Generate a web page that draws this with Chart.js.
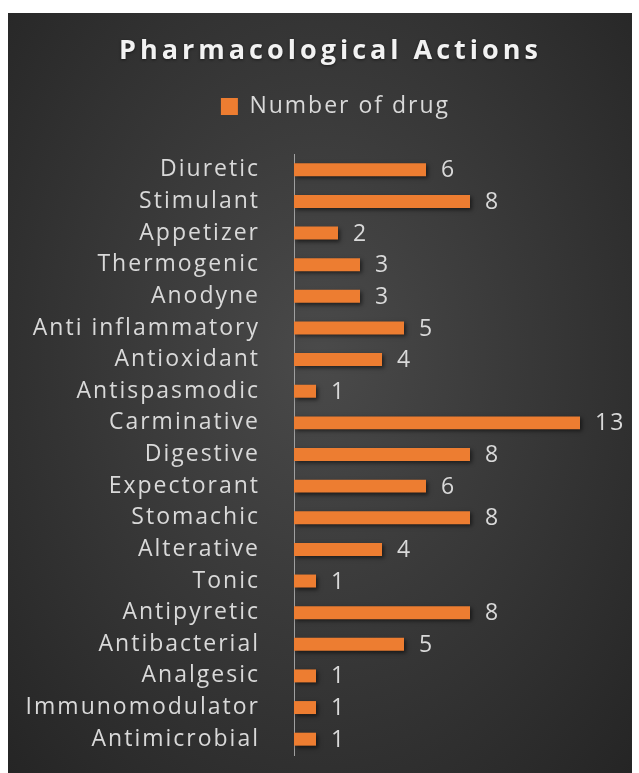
<!DOCTYPE html>
<html>
<head>
<meta charset="utf-8">
<script src="https://cdn.jsdelivr.net/npm/chart.js@4/dist/chart.umd.min.js"></script>
<style>
  html, body { margin: 0; padding: 0; background: #ffffff; }
  #wrap {
    position: absolute; left: 8px; top: 13px; width: 624px; height: 760px;
    background: radial-gradient(ellipse at 50% 45%, #4a4a4a 0%, #393939 45%, #252525 100%);
  }
  canvas { display: block; }
</style>
</head>
<body>
<div id="wrap"><canvas id="c" width="624" height="760"></canvas></div>
<script>
const categories = ["Diuretic","Stimulant","Appetizer","Thermogenic","Anodyne","Anti inflammatory","Antioxidant","Antispasmodic","Carminative","Digestive","Expectorant","Stomachic","Alterative","Tonic","Antipyretic","Antibacterial","Analgesic","Immunomodulator","Antimicrobial"];
const numberOfDrug = [6,8,2,3,3,5,4,1,13,8,6,8,4,1,8,5,1,1,1];
const seriesName = "Number of drug";
const chartTitle = "Pharmacological Actions";

const FONT = "'Open Sans', sans-serif";
const TEXT = "#d9d9d9";
const SPACING = '2px';

const decorPlugin = {
  id: 'decor',
  beforeLayout(chart) { chart.ctx.letterSpacing = SPACING; },
  afterLayout(chart) {
    const lg = chart.legend;
    lg.left += 25.5; lg.right += 25.5;
    lg.top -= 26; lg.bottom -= 26;
  },
  beforeDraw(chart) { chart.ctx.letterSpacing = SPACING; },
  beforeDatasetsDraw(chart) {
    const ctx = chart.ctx;
    ctx.save();
    ctx.shadowColor = 'rgba(0,0,0,0.55)';
    ctx.shadowBlur = 4;
    ctx.shadowOffsetX = 2;
    ctx.shadowOffsetY = 2;
  },
  afterDatasetsDraw(chart) {
    chart.ctx.restore();
    const ctx = chart.ctx;
    const meta = chart.getDatasetMeta(0);
    ctx.save();
    ctx.fillStyle = TEXT;
    ctx.font = "23px " + FONT;
    ctx.letterSpacing = SPACING;
    ctx.textAlign = 'left';
    ctx.textBaseline = 'middle';
    meta.data.forEach((bar, i) => {
      ctx.fillText(String(chart.data.datasets[0].data[i]), bar.x + 15, bar.y + 1);
    });
    ctx.restore();
  },
  afterDraw(chart) {
    const ctx = chart.ctx;
    ctx.save();
    ctx.fillStyle = '#f2f2f2';
    ctx.font = "bold 27px " + FONT;
    ctx.letterSpacing = '4px';
    ctx.textAlign = 'center';
    ctx.textBaseline = 'alphabetic';
    ctx.shadowColor = 'rgba(0,0,0,0.5)';
    ctx.shadowBlur = 3;
    ctx.shadowOffsetY = 1;
    ctx.fillText(chartTitle, chart.width / 2 + 10.5, 46);
    ctx.restore();
  }
};

new Chart(document.getElementById('c'), {
  type: 'bar',
  data: {
    labels: categories,
    datasets: [{
      label: seriesName,
      data: numberOfDrug,
      backgroundColor: '#ed7d31',
      borderWidth: 0,
      categoryPercentage: 1.0,
      barPercentage: 0.41
    }]
  },
  options: {
    indexAxis: 'y',
    responsive: false,
    animation: false,
    layout: { padding: { left: 10, right: 30, top: 98, bottom: 18 } },
    plugins: {
      title: { display: false },
      legend: {
        display: true,
        labels: {
          color: TEXT,
          font: { family: FONT, size: 23 },
          boxWidth: 17, boxHeight: 17,
          padding: 10
        }
      },
      tooltip: { enabled: false }
    },
    scales: {
      x: {
        min: 0, max: 14,
        display: false,
        grid: { display: false }
      },
      y: {
        afterFit(scale) { scale.width = 276; scale.paddingTop = 0; scale.paddingBottom = 0; },
        grid: { display: false, drawTicks: false },
        border: { display: true, color: '#a0a0a0', width: 1 },
        ticks: { color: TEXT, font: { family: FONT, size: 23 }, padding: 34 }
      }
    }
  },
  plugins: [decorPlugin]
});
</script>
</body>
</html>
